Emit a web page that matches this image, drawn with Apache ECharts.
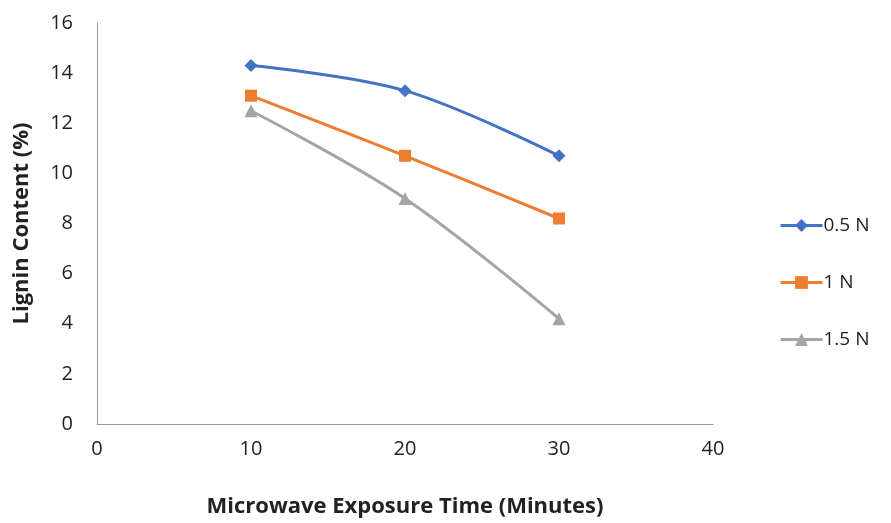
<!DOCTYPE html>
<html><head><meta charset="utf-8">
<script src="https://cdn.jsdelivr.net/npm/echarts@6/dist/echarts.min.js"></script>
<style>html,body{margin:0;padding:0;background:#fff}#c{width:891px;height:523px}</style>
</head><body><div id="c"></div>
<script>
var xValues = [10, 20, 30];
var s05 = [14.3, 13.3, 10.7];
var s1 = [13.1, 10.7, 8.2];
var s15 = [12.5, 9.0, 4.2];
var seriesNames = ['0.5 N', '1 N', '1.5 N'];
var FONT = 'Open Sans';
function pts(v){ return xValues.map(function(x,i){ return [x, v[i]]; }); }
var chart = echarts.init(document.getElementById('c'));
var colors = ['#4472C4', '#ED7D31', '#A5A5A5'];
var symbols = ['diamond', 'rect', 'triangle'];
var sizes = [13, 12, 13];
var data = [s05, s1, s15];
chart.setOption({
  animation: false,
  color: colors,
  grid: {left: 97, right: 178, top: 23, bottom: 90, containLabel: false},
  legend: {
    orient: 'vertical', left: 774, top: 211, itemWidth: 42, itemHeight: 16, itemGap: 38,
    lineStyle: {width: 3},
    textStyle: {fontFamily: FONT, fontSize: 19, color: '#222', padding: [0,0,0,-4]},
    data: seriesNames
  },
  xAxis: {
    type: 'value', min: 0, max: 40, interval: 10,
    axisLine: {show: true, lineStyle: {color: '#9a9a9a', width: 1}},
    axisTick: {show: false}, splitLine: {show: false},
    axisLabel: {fontFamily: FONT, fontSize: 20, color: '#222', margin: 15},
    name: 'Microwave Exposure Time (Minutes)', nameLocation: 'middle', nameGap: 72,
    nameTextStyle: {fontFamily: FONT, fontSize: 22, fontWeight: 'bold', color: '#222'}
  },
  yAxis: {
    type: 'value', min: 0, max: 16, interval: 2,
    axisLine: {show: true, lineStyle: {color: '#9a9a9a', width: 1}},
    axisTick: {show: false}, splitLine: {show: false},
    axisLabel: {fontFamily: FONT, fontSize: 20, color: '#222', margin: 24},
    name: 'Lignin Content (%)', nameLocation: 'middle', nameGap: 64, nameRotate: 90,
    nameTextStyle: {fontFamily: FONT, fontSize: 22, fontWeight: 'bold', color: '#222'}
  },
  series: seriesNames.map(function(n, i){
    return {
      name: n, type: 'line', smooth: 0.35, data: pts(data[i]),
      symbol: symbols[i], symbolSize: sizes[i],
      lineStyle: {width: 3, color: colors[i]},
      itemStyle: {color: colors[i]}
    };
  })
});
</script></body></html>
